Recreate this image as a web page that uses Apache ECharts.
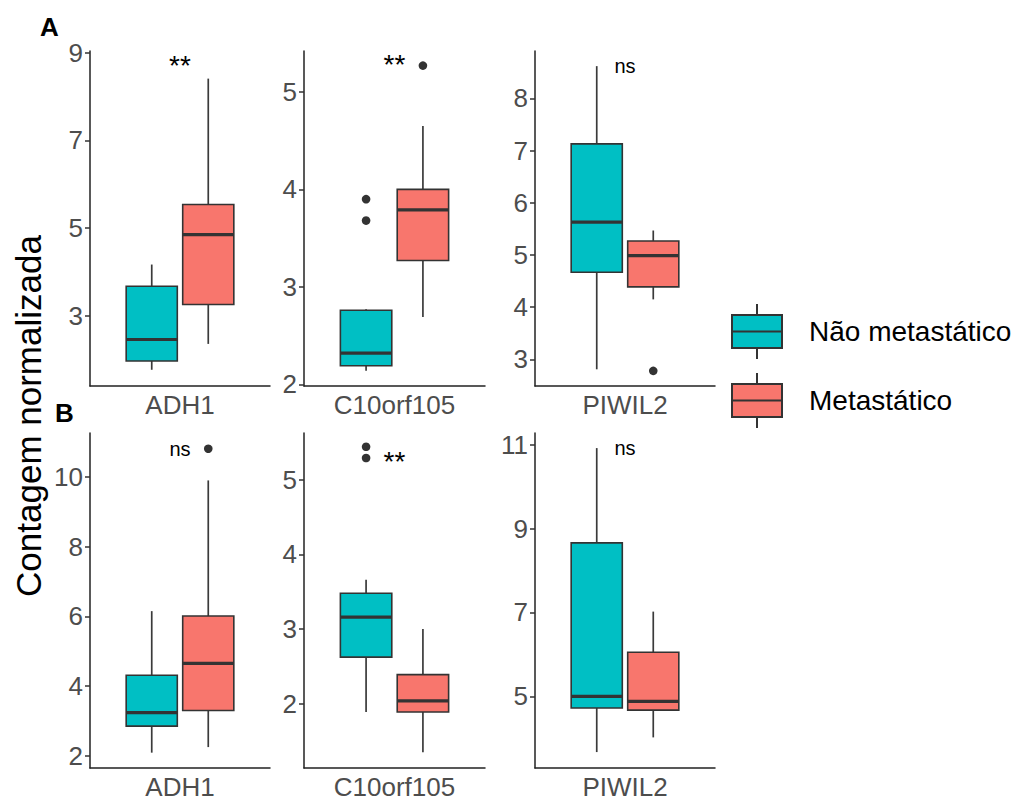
<!DOCTYPE html>
<html>
<head>
<meta charset="utf-8">
<script src="https://cdn.jsdelivr.net/npm/echarts@6.0.0/dist/echarts.min.js"></script>
<style>
  html, body { margin: 0; padding: 0; background: #ffffff; }
  #chart { width: 1020px; height: 801px; }
</style>
</head>
<body>
<div id="chart"></div>
<script>
// Genes shown in each row and the two sample groups
const genes = ['ADH1', 'C10orf105', 'PIWIL2'];
const groups = ['Não metastático', 'Metastático'];

// Box statistics per gene: [lower whisker, Q1, median, Q3, upper whisker]
const statsA_nao = [[1.77, 1.97, 2.46, 3.675, 4.17], [2.14, 2.19, 2.32, 2.76, 2.77], [2.81, 4.67, 5.63, 7.13, 8.62]];
const statsA_met = [[2.36, 3.26, 4.85, 5.54, 8.41], [2.69, 3.27, 3.79, 4.00, 4.65], [4.15, 4.39, 4.99, 5.27, 5.47]];
const statsB_nao = [[2.09, 2.85, 3.24, 4.31, 6.15], [1.89, 2.625, 3.16, 3.48, 3.66], [3.67, 4.72, 5.00, 8.66, 10.92]];
const statsB_met = [[2.25, 3.30, 4.65, 6.01, 9.90], [1.35, 1.89, 2.04, 2.39, 3.00], [4.02, 4.67, 4.88, 6.05, 7.02]];

// Outlying samples per gene
const outliersA_nao = [[], [3.90, 3.68], []];
const outliersA_met = [[], [5.27], [2.78]];
const outliersB_nao = [[], [5.44, 5.29], []];
const outliersB_met = [[10.81], [], []];

// Significance labels and the height they sit at
const signifA = ['**', '**', 'ns'];
const signifA_y = [8.72, 5.28, 8.62];
const signifB = ['ns', '**', 'ns'];
const signifB_y = [10.81, 5.24, 10.92];

// Value-axis ranges and tick values per panel
const yRangeA = [[1.40, 9.04], [1.983, 5.42], [2.49, 8.91]];
const yRangeB = [[1.65, 11.26], [1.14, 5.625], [3.29, 11.28]];
const yTicksA = [[3, 5, 7, 9], [2, 3, 4, 5], [3, 4, 5, 6, 7, 8]];
const yTicksB = [[2, 4, 6, 8, 10], [2, 3, 4, 5], [5, 7, 9, 11]];

const FONT = "'Liberation Sans', Arial, sans-serif";
const COLORS = ['#00BFC4', '#F8766D'];
const EDGE = '#333333';
const DODGE = [-0.157, 0.157];   // box centre offset, fraction of band
const BOX_FRAC = 0.284;          // box width, fraction of band

const rows = [
  { stats: [statsA_nao, statsA_met], outliers: [outliersA_nao, outliersA_met],
    signif: signifA, signifY: signifA_y, ranges: yRangeA, ticks: yTicksA },
  { stats: [statsB_nao, statsB_met], outliers: [outliersB_nao, outliersB_met],
    signif: signifB, signifY: signifB_y, ranges: yRangeB, ticks: yTicksB }
];

const rowTop = [51, 433];
const rowHeight = 335;
const colLeft = [90, 304, 535];
const colWidth = [180, 181, 180];

function boxRenderer(g) {
  return function (params, api) {
    const band = params.coordSys.width;
    const cx = api.coord([api.value(0), api.value(3)])[0] + DODGE[g] * band;
    const hw = BOX_FRAC * band / 2;
    const py = i => api.coord([api.value(0), api.value(i)])[1];
    const lo = py(1), q1 = py(2), md = py(3), q3 = py(4), hi = py(5);
    const edge = { stroke: '#3a3a3a', lineWidth: 1.7 };
    return {
      type: 'group',
      children: [
        { type: 'line', shape: { x1: cx, y1: hi, x2: cx, y2: q3 }, style: edge },
        { type: 'line', shape: { x1: cx, y1: q1, x2: cx, y2: lo }, style: edge },
        { type: 'rect', shape: { x: cx - hw, y: q3, width: 2 * hw, height: q1 - q3 },
          style: { fill: COLORS[g], stroke: EDGE, lineWidth: 1.6 } },
        { type: 'line', shape: { x1: cx - hw, y1: md, x2: cx + hw, y2: md },
          style: { stroke: EDGE, lineWidth: 3.2 } }
      ]
    };
  };
}

function outlierRenderer(g) {
  return function (params, api) {
    const band = params.coordSys.width;
    const p = api.coord([api.value(0), api.value(1)]);
    return { type: 'circle', shape: { cx: p[0] + DODGE[g] * band, cy: p[1], r: 4.3 },
             style: { fill: EDGE } };
  };
}

function signifRenderer(text) {
  return function (params, api) {
    const p = api.coord([api.value(0), api.value(1)]);
    const big = text === '**';
    return { type: 'text', x: p[0], y: p[1],
             style: { text: text, align: 'center', verticalAlign: 'middle',
                      fontFamily: FONT, fontSize: big ? 28 : 20, fill: '#000000' } };
  };
}

const grid = [], xAxis = [], yAxis = [], series = [];
rows.forEach((row, r) => {
  genes.forEach((gene, c) => {
    const idx = grid.length;
    grid.push({ left: colLeft[c], top: rowTop[r], width: colWidth[c], height: rowHeight });
    xAxis.push({
      type: 'category', gridIndex: idx, data: [gene],
      axisLine: { lineStyle: { color: '#222222', width: 1.5 } },
      axisTick: { alignWithLabel: true, length: 5, lineStyle: { color: '#333333', width: 1.5 } },
      axisLabel: { color: '#4d4d4d', fontSize: 26, lineHeight: 24, fontFamily: FONT, margin: 7 },
      splitLine: { show: false }
    });
    yAxis.push({
      type: 'value', gridIndex: idx, min: row.ranges[c][0], max: row.ranges[c][1],
      axisLine: { show: true, lineStyle: { color: '#222222', width: 1.5 } },
      axisTick: { show: true, length: 5, customValues: row.ticks[c], lineStyle: { color: '#333333', width: 1.5 } },
      axisLabel: { color: '#4d4d4d', fontSize: 26, fontFamily: FONT, margin: 7, customValues: row.ticks[c] },
      splitLine: { show: false }
    });
    for (let g = 0; g < 2; g++) {
      series.push({
        type: 'custom', name: groups[g], xAxisIndex: idx, yAxisIndex: idx,
        itemStyle: { color: COLORS[g] },
        renderItem: boxRenderer(g),
        encode: { x: 0, y: [1, 2, 3, 4, 5] },
        data: [[0].concat(row.stats[g][c])],
        silent: true
      });
    }
    for (let g = 0; g < 2; g++) {
      const pts = row.outliers[g][c];
      if (!pts.length) continue;
      series.push({
        type: 'custom', name: 'outliers-' + r + c + g, xAxisIndex: idx, yAxisIndex: idx,
        renderItem: outlierRenderer(g),
        encode: { x: 0, y: 1 },
        data: pts.map(v => [0, v]),
        silent: true
      });
    }
    series.push({
      type: 'custom', name: 'signif-' + r + c, xAxisIndex: idx, yAxisIndex: idx,
      renderItem: signifRenderer(row.signif[c]),
      encode: { x: 0, y: 1 },
      data: [[0, row.signifY[c]]],
      silent: true
    });
  });
});

const chart = echarts.init(document.getElementById('chart'), null, { renderer: 'svg' });
chart.setOption({
  backgroundColor: '#ffffff',
  animation: false,
  grid: grid,
  xAxis: xAxis,
  yAxis: yAxis,
  series: series,
  legend: {
    data: groups,
    orient: 'vertical',
    left: 731, top: 303, padding: 0,
    itemWidth: 50, itemHeight: 55, itemGap: 12,
    icon: 'path://M25,0L25,11M0,11L50,11L50,44L0,44ZM0,27.5L50,27.5M25,44L25,55',
    itemStyle: { borderColor: EDGE, borderWidth: 2 },
    textStyle: { fontSize: 28, fontFamily: FONT, color: '#000000', padding: [4, 0, 0, 22] },
    selectedMode: false
  },
  graphic: [
    { type: 'text', x: 40, y: 27,
      style: { text: 'A', fontFamily: FONT, fontWeight: 'bold', fontSize: 26, fill: '#000000', verticalAlign: 'middle' } },
    { type: 'text', x: 55, y: 413,
      style: { text: 'B', fontFamily: FONT, fontWeight: 'bold', fontSize: 26, fill: '#000000', verticalAlign: 'middle' } },
    { type: 'text', x: 28, y: 416, rotation: Math.PI / 2,
      style: { text: 'Contagem normalizada', fontFamily: FONT, fontSize: 35, fill: '#000000',
               align: 'center', verticalAlign: 'middle' } }
  ]
});
</script>
</body>
</html>
